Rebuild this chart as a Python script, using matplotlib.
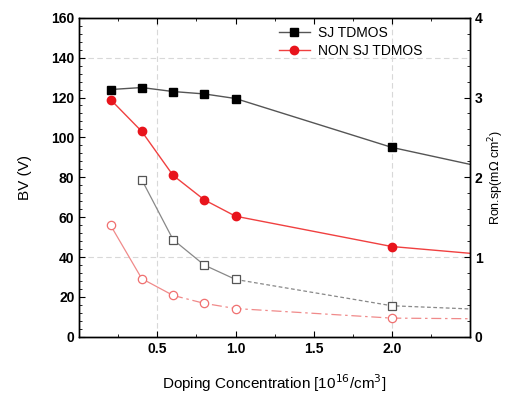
import matplotlib
matplotlib.use('Agg')
import matplotlib.pyplot as plt
from matplotlib.ticker import MultipleLocator

plt.rcParams.update({
    'font.family': 'Liberation Sans',
    'font.size': 10,
    'xtick.direction': 'in',
    'ytick.direction': 'in',
    'axes.linewidth': 1.0,
})

# doping concentration [1e16/cm3]
doping = [0.2, 0.4, 0.6, 0.8, 1.0, 2.0, 3.0]
sj_bv = [124, 125, 123, 121.8, 119.5, 95, 78]
nonsj_bv = [119, 103, 81, 68.7, 60.5, 45.3, 38.5]

# specific on-resistance (mOhm cm2)
doping_ron_sj = [0.4, 0.6, 0.8, 1.0, 2.0, 3.0]
sj_ron = [1.97, 1.22, 0.9, 0.72, 0.39, 0.31]
doping_ron_nonsj = [0.2, 0.4, 0.6, 0.8, 1.0, 2.0, 3.0]
nonsj_ron = [1.40, 0.73, 0.52, 0.42, 0.355, 0.235, 0.22]

fig, ax = plt.subplots(figsize=(5.08, 3.94), dpi=100)
fig.subplots_adjust(left=0.156, right=0.925, top=0.955, bottom=0.145)

# faint dashed reference grid
for gx in [0.5, 2.0]:
    ax.axvline(gx, color='#d8d8d8', linestyle=(0, (5, 3)), linewidth=0.8, zorder=0)
for gy in [40, 140]:
    ax.axhline(gy, color='#d8d8d8', linestyle=(0, (5, 3)), linewidth=0.8, zorder=0)

ax.plot(doping, sj_bv, color='#555555', linewidth=1.0, marker='s', markersize=5.5,
        markerfacecolor='black', markeredgecolor='black', label='SJ TDMOS')
ax.plot(doping, nonsj_bv, color='#f04040', linewidth=1.0, marker='o', markersize=6,
        markerfacecolor='#e8141c', markeredgecolor='#e8141c', label='NON SJ TDMOS')

ax.set_xlim(0, 2.5)
ax.set_ylim(0, 160)
ax.xaxis.set_major_locator(MultipleLocator(0.5))
ax.xaxis.set_minor_locator(MultipleLocator(0.25))
ax.yaxis.set_major_locator(MultipleLocator(20))
ax.yaxis.set_minor_locator(MultipleLocator(4))
ax.set_xticks([0.5, 1.0, 1.5, 2.0])
ax.set_xticklabels(['0.5', '1.0', '1.5', '2.0'])
ax.tick_params(which='both', top=True, right=False)
ax.tick_params(which='major', length=4, labelsize=10)
ax.tick_params(which='minor', length=2)
for lab in ax.get_xticklabels() + ax.get_yticklabels():
    lab.set_fontweight('bold')

ax.set_xlabel('Doping Concentration [10$^{16}$/cm$^{3}$]', fontsize=11, labelpad=12)
ax.set_ylabel('BV (V)', fontsize=11, labelpad=14)

ax2 = ax.twinx()
ax2.set_ylim(0, 4)
ax2.yaxis.set_major_locator(MultipleLocator(1))
ax2.yaxis.set_minor_locator(MultipleLocator(0.2))
ax2.tick_params(which='major', length=4, labelsize=10)
ax2.tick_params(which='minor', length=2)
for lab in ax2.get_yticklabels():
    lab.set_fontweight('bold')

# on-resistance curves: solid near the start, broken further out
k = 4
ax2.plot(doping_ron_sj[:k], sj_ron[:k], color='#888888', linewidth=0.9)
ax2.plot(doping_ron_sj[k - 1:], sj_ron[k - 1:], color='#888888', linewidth=0.9,
         linestyle=(0, (3, 2)))
ax2.plot(doping_ron_sj[:-1], sj_ron[:-1], linestyle='none', marker='s', markersize=5.5,
         markerfacecolor='white', markeredgecolor='#555555', markeredgewidth=0.9)
m = 3
ax2.plot(doping_ron_nonsj[:m], nonsj_ron[:m], color='#f08a8a', linewidth=0.9)
ax2.plot(doping_ron_nonsj[m - 1:], nonsj_ron[m - 1:], color='#f08a8a', linewidth=0.9,
         linestyle=(0, (8, 3, 2, 3)))
ax2.plot(doping_ron_nonsj[:-1], nonsj_ron[:-1], linestyle='none', marker='o', markersize=6,
         markerfacecolor='white', markeredgecolor='#f07070', markeredgewidth=0.9)
ax2.set_ylabel('Ron.sp(m$\\Omega$ cm$^{2}$)', fontsize=9, labelpad=3)

ax.legend(loc='upper left', bbox_to_anchor=(0.49, 1.0), frameon=False, fontsize=10,
          handlelength=2.2, handletextpad=0.6, labelspacing=0.3, borderaxespad=0.2)

fig.savefig('out.png', dpi=100)
